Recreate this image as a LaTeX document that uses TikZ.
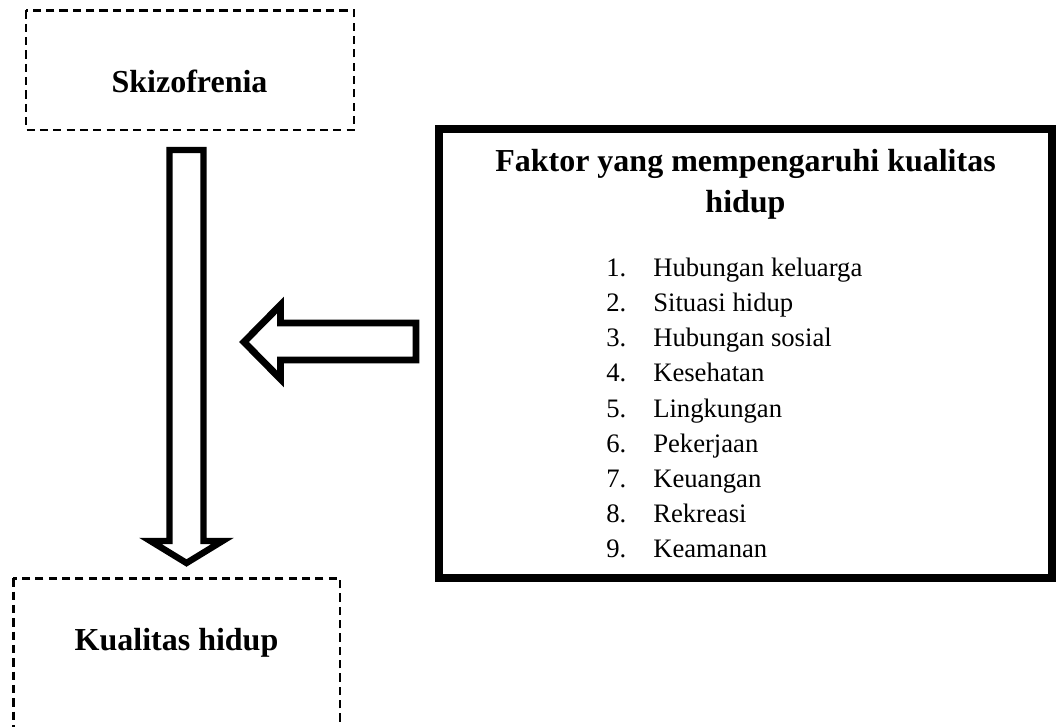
\documentclass[tikz,border=0pt]{standalone}
\usepackage{fontspec}
\setmainfont{Liberation Serif}
\begin{document}
\begin{tikzpicture}[x=0.75pt,y=-0.75pt,
  dashbox/.style={line width=2pt,dash pattern=on 6.2pt off 3.8pt},
  blockarrow/.style={line width=4.8pt,line join=miter},
  headfont/.style={font=\fontsize{24}{30.75}\selectfont\bfseries},
  itemfont/.style={font=\fontsize{20}{24}\selectfont}]
	% --- Parameters ---
	\def\numx{606}     % left edge of the numbers
	\def\textx{653}    % left edge of the item texts
	\def\firsty{277}   % baseline of item 1
	\def\rowh{35}      % distance between two items
	\clip (0,0) rectangle (1061,727);
	% --- Dashed boxes ---
	\draw[dashbox] (26,10.5) rectangle (354,130);
	\node[headfont,anchor=base] (skizo) at (189.5,93) {Skizofrenia};
	\draw[dashbox] (13.3,578.3) rectangle (340,760);
	\node[headfont,anchor=base] (kualitas) at (176.5,650) {Kualitas hidup};
	% --- Down arrow (Skizofrenia -> Kualitas hidup) ---
	\draw[blockarrow] (169.5,150) -- (169.5,541) -- (150.5,541) -- (186.5,563)
	  -- (222.5,541) -- (203.5,541) -- (203.5,150) -- cycle;
	% --- Left arrow (factors -> down arrow) ---
	\draw[blockarrow,line width=5.2pt] (416,323) -- (280.5,323) -- (280.5,305) -- (244,342)
	  -- (280.5,379) -- (280.5,360) -- (416,360) -- cycle;
	% --- Box of factors ---
	\draw[line width=5.6pt] (439,129) rectangle (1052,578);
	% base of a two-line node is the baseline of its last line
	\node[headfont,align=center,anchor=base] (title) at (745.5,213)
	  {Faktor yang mempengaruhi kualitas\\hidup};
	% list of factors
	\foreach \factor [count=\i] in {Hubungan keluarga,Situasi hidup,Hubungan sosial,
	  Kesehatan,Lingkungan,Pekerjaan,Keuangan,Rekreasi,Keamanan}{
	  \pgfmathsetmacro{\rowy}{\firsty+(\i-1)*\rowh}
	  \node[itemfont,anchor=base west,inner sep=0pt] (num\i) at (\numx,\rowy) {\i.};
	  \node[itemfont,anchor=base west,inner sep=0pt] (fac\i) at (\textx,\rowy) {\factor};
	}
\end{tikzpicture}
\end{document}
